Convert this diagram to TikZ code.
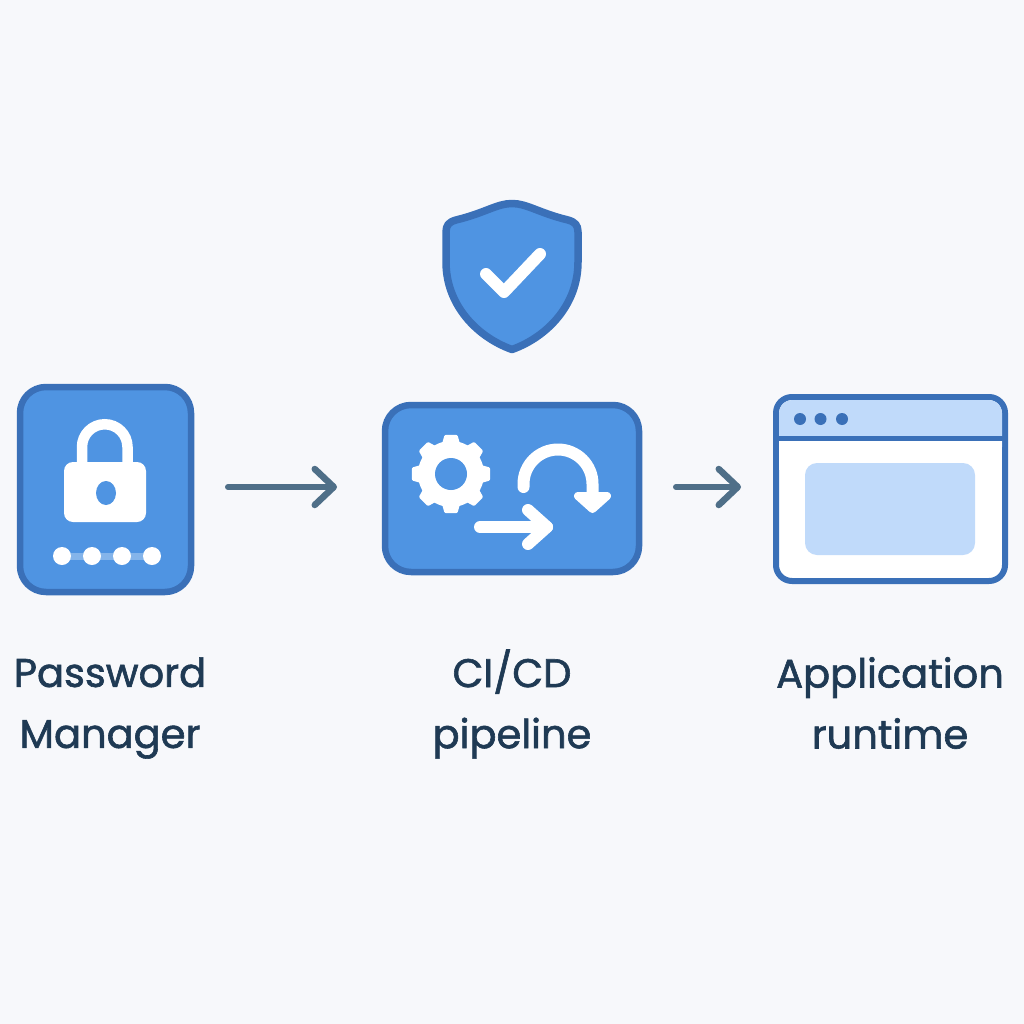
\documentclass[tikz,border=0pt]{standalone}
\usepackage{fontspec}
\setmainfont{Poppins}
\usetikzlibrary{arrows.meta,calc}
\definecolor{bgc}{HTML}{F7F8FB}
\definecolor{fillb}{HTML}{4F94E2}
\definecolor{edgeb}{HTML}{3A70B8}
\definecolor{lightb}{HTML}{C0DAFA}
\definecolor{conn}{HTML}{4F6F88}
\definecolor{txt}{HTML}{1F3A54}
\tikzset{
  card/.style={draw=edgeb,fill=fillb,line width=6.5pt,inner sep=0pt,outer sep=0pt,rounded corners=26pt},
  flow/.style={draw=conn,line width=6pt,line cap=round,-{Straight Barb[length=19pt,width=36pt,line width=6.5pt,round]}},
  label/.style={text=txt,font=\fontsize{40}{61}\selectfont\addfontfeatures{FakeBold=1.5},align=center,inner sep=0pt},
  glyph/.style={draw=white,line width=12pt,line cap=round,line join=round}
}
\begin{document}
\begin{tikzpicture}[x=1pt,y=-1pt]
\useasboundingbox (0,0) rectangle (1024,1024);
\fill[bgc] (0,0) rectangle (1024,1024);
% password manager
\node[card,minimum width=171pt,minimum height=205pt] (pm) at (105.5,489.5) {};
\draw[white,line width=10.5pt] (82,468) -- (82,447) arc[start angle=180,end angle=0,radius=22.75pt] -- (127.5,468);
\fill[white,rounded corners=9pt] (64,462) rectangle (146,522);
\fill[fillb] (106,493) ellipse[x radius=10pt,y radius=12pt];
\draw[white,opacity=.3,line width=7pt] (62,556) -- (152,556);
\foreach \x in {62,92,122,152} \fill[white] (\x,556) circle[radius=9pt];
% shield
\draw[fill=fillb,draw=edgeb,line width=7.5pt,line join=round] (512,203.5)
 .. controls (497,203.5) and (485,213) .. (456,220)
 .. controls (449,222) and (446,225) .. (446,232)
 -- (446,262)
 .. controls (446,305) and (477,337) .. (512,349.5)
 .. controls (547,337) and (578,305) .. (578,262)
 -- (578,232)
 .. controls (578,225) and (575,222) .. (568,220)
 .. controls (539,213) and (527,203.5) .. (512,203.5) -- cycle;
\draw[glyph] (486,274) -- (504,292) -- (540,254);
% pipeline
\node[card,minimum width=254pt,minimum height=167pt] (pipe) at (512,488.5) {};
\fill[white] (451,474) circle[radius=33pt];
\foreach \a in {0,45,...,315}
  \draw[white,fill=white,line width=3pt,line join=round]
    ($(451,474)+(\a-15:30pt)$) -- ($(451,474)+(\a-8:38pt)$) -- ($(451,474)+(\a+8:38pt)$) -- ($(451,474)+(\a+15:30pt)$) -- cycle;
\fill[fillb] (451,474) circle[radius=16pt];
\draw[glyph] (523.5,487) -- (523.5,484) arc[start angle=180,end angle=0,radius=34.5pt] -- (592.5,496);
\draw[white,fill=white,line width=8pt,line join=round] (578,496) -- (607,496) -- (592.5,509) -- cycle;
\draw[glyph] (480,527) -- (547,527);
\draw[glyph] (528,510) -- (547,527) -- (528,544);
% browser
\node[draw=edgeb,fill=white,line width=6pt,inner sep=0pt,outer sep=0pt,rounded corners=16pt,minimum width=229pt,minimum height=184pt] (app) at (890.5,489) {};
\fill[lightb,rounded corners=13pt] (779,400) -- (1002,400) -- (1002,460) -- (779,460) -- cycle;
\fill[white] (779,438) rectangle (1002,470);
\draw[edgeb,line width=5pt] (775,438) -- (1006,438);
\foreach \x in {800,820.5,842} \fill[edgeb] (\x,419) circle[radius=6pt];
\fill[lightb,rounded corners=12pt] (805,463) rectangle (975,555);
% connectors
\draw[flow,shorten <=37pt,shorten >=48pt] ([yshift=2.5pt]pm.east) -- ([yshift=1.5pt]pipe.west);
\draw[flow,shorten <=37pt,shorten >=35pt] ([yshift=1.5pt]pipe.east) -- ([yshift=2pt]app.west);
% labels
\node[label] (t1) at (110,708) {Password\\Manager};
\node[label] (t2) at (512,704) {CI/CD\\pipeline};
\node[label] (t3) at (890,703) {Application\\runtime};
\end{tikzpicture}
\end{document}
